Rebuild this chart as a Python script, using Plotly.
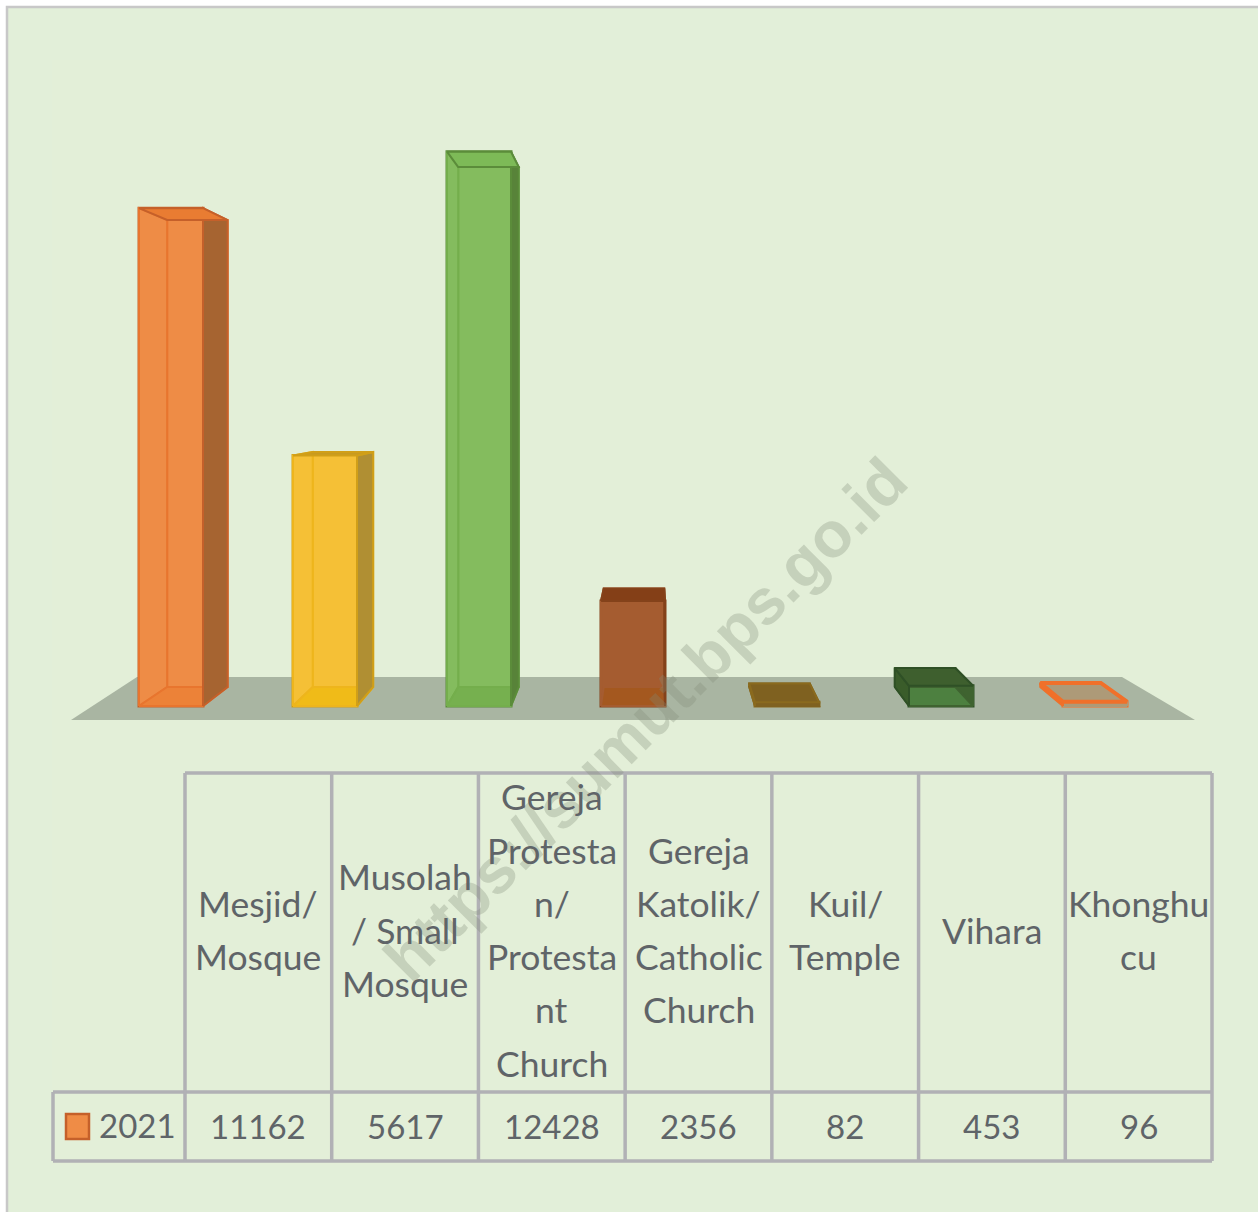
import plotly.graph_objects as go

W, H = 1258, 1212

# data
YEAR = "2021"
VALUES = [11162, 5617, 12428, 2356, 82, 453, 96]
LABELS = [
    ["Mesjid/", "Mosque"],
    ["Musolah", "/ Small", "Mosque"],
    ["Gereja", "Protesta", "n/", "Protesta", "nt", "Church"],
    ["Gereja", "Katolik/", "Catholic", "Church"],
    ["Kuil/", "Temple"],
    ["Vihara"],
    ["Khonghu", "cu"],
]

# per-bar colours
FRONT = ["rgba(238,140,70,0.35)", "rgba(245,192,54,0.35)", "rgba(132,188,94,0.35)", "#a55c30",
         "#7f6120", "#4d8040", "rgba(240,112,42,0.9)"]
BACK = ["#ee8c46", "#f5c036", "#84bc5e", "#a55c30", "#7f6120", "#3f6330", "#ad9a78"]
EDGE = ["#c5602a", "#d19f18", "#5b8c3a", "#84421a", "#8a6a1e", "#2f5026", "#f0702a"]
SIDE = ["#a66431", "#b08f33", "#588339", "#84421a", "#7f6120", "#3a5c2a", "#f0702a"]
TOP = ["#e97c32", "#c79a20", "#7dba57", "#843f17", "#7f6120", "#3e5f2e", "#ad9a78"]
BOTTOM = ["#ec8238", "#f0bb18", "#76b04f", "#a4581f", "#7f6120", "#4d8040", "#ad9a78"]
INNER = ["#e8752e", "#eeb51c", "#74ae4c", "#a55c30", "#7f6120", "#3f6330", "#ad9a78"]

# projection of the fake 3D box: pixels per unit, back plane relative to the front
PX_PER_UNIT = 0.0446
BASE_PX = 706
CENTER0_PX, STEP_PX = 171, 154
BAR_W = 64 / STEP_PX
BACK_SCALE_Y = 0.938
BACK_BASE = (706 - 687) / PX_PER_UNIT
BACK_SCALE_X = 0.945
VANISH_X = (651 - CENTER0_PX) / STEP_PX

TEXT = "#5f6468"
GRID = "#b1b1b5"
FONT = "Lato"


def fx(x):
    return x / W


def fy(y):
    return 1 - y / H


def back_x(x):
    return VANISH_X + (x - VANISH_X) * BACK_SCALE_X


def back_y(v):
    return BACK_BASE + BACK_SCALE_Y * v


def poly(xs, ys, fill, line, width=2):
    return go.Scatter(
        x=xs + xs[:1], y=ys + ys[:1], mode="lines", fill="toself", fillcolor=fill,
        line=dict(color=line, width=width), hoverinfo="skip", showlegend=False,
    )


fig = go.Figure()

for i, v in enumerate(VALUES):
    l, r = i - BAR_W / 2, i + BAR_W / 2
    bl, br = back_x(l), back_x(r)
    y0, yt = back_y(0), back_y(v)
    # outer side is the dark one, the other is seen through the front
    if i <= 3:
        near, far = (l, bl), (r, br)
    else:
        near, far = (r, br), (l, bl)
    fig.add_trace(poly([bl, br, br, bl], [y0, y0, yt, yt], BACK[i], INNER[i], 2))
    fig.add_trace(poly([near[0], near[1], near[1], near[0]], [0, y0, yt, v], BACK[i], INNER[i], 2))
    fig.add_trace(poly([l, r, br, bl], [0, 0, y0, y0], BOTTOM[i], INNER[i], 2))
    fig.add_trace(poly([far[0], far[1], far[1], far[0]], [0, y0, yt, v], SIDE[i], EDGE[i], 2))
    fig.add_trace(poly([l, r, br, bl], [v, v, yt, yt], TOP[i], EDGE[i], 4 if i == 6 else 2))

fig.add_trace(go.Bar(
    x=list(range(len(VALUES))), y=VALUES, width=BAR_W,
    marker=dict(color=FRONT, line=dict(color=EDGE, width=3)),
    showlegend=False, hoverinfo="skip",
))

# page frame, faint plot area and floor
shapes = [
    dict(type="rect", xref="paper", yref="paper", x0=fx(7), x1=fx(W + 20), y0=fy(H + 20), y1=fy(7),
         fillcolor="#e2efd9", line=dict(color="#c8c8c8", width=2.5), layer="below"),
    dict(type="rect", xref="paper", yref="paper", x0=fx(52), x1=fx(1210), y0=fy(1165), y1=fy(60),
         fillcolor="#e3efd8", line=dict(width=0), layer="below"),
    dict(type="path", xref="paper", yref="paper", layer="below", fillcolor="#a9b5a2", line=dict(width=0),
         path=f"M{fx(71)},{fy(720)} L{fx(1195)},{fy(720)} L{fx(1122)},{fy(677)} L{fx(137)},{fy(677)} Z"),
]

# data table under the chart
COL0, COL_W = 185, (1212 - 185) / 7
TOP_Y, MID_Y, BOT_Y, LEFT_X, RIGHT_X = 773, 1092, 1161, 53, 1212


def hline(y, a, b):
    return dict(type="line", xref="paper", yref="paper", x0=fx(a), x1=fx(b), y0=fy(y), y1=fy(y),
                line=dict(color=GRID, width=3.5))


def vline(x, a, b):
    return dict(type="line", xref="paper", yref="paper", x0=fx(x), x1=fx(x), y0=fy(a), y1=fy(b),
                line=dict(color=GRID, width=3.5))


shapes += [hline(TOP_Y, COL0, RIGHT_X), hline(MID_Y, LEFT_X, RIGHT_X), hline(BOT_Y, LEFT_X, RIGHT_X)]
shapes += [vline(COL0 + COL_W * c, TOP_Y, BOT_Y) for c in range(8)]
shapes.append(vline(LEFT_X, MID_Y, BOT_Y))
shapes.append(dict(type="rect", xref="paper", yref="paper", x0=fx(66), x1=fx(89), y0=fy(1139), y1=fy(1114),
                   fillcolor="#ef8c46", line=dict(color="#c5602a", width=2.5)))


def label(x, y, text, size=35.5, anchor="center"):
    return dict(xref="paper", yref="paper", x=fx(x), y=fy(y), text=text, showarrow=False,
                xanchor=anchor, yanchor="middle", font=dict(family=FONT, size=size, color=TEXT))


annotations = [dict(
    xref="paper", yref="paper", x=fx(645), y=fy(720), text="https://sumut.bps.go.id", showarrow=False,
    textangle=-45, xanchor="center", yanchor="middle",
    font=dict(family="Liberation Sans", size=64, color="rgba(128,140,120,0.3)", weight="bold"),
)]
LINE_H, HEAD_MID = 53.3, 930
for c, lines in enumerate(LABELS):
    cx = COL0 + COL_W * (c + 0.5)
    for n, line in enumerate(lines):
        annotations.append(label(cx, HEAD_MID + (n - (len(lines) - 1) / 2) * LINE_H, line))
    annotations.append(label(cx, 1126, str(VALUES[c]), size=33))
annotations.append(label(97, 1125, YEAR, size=33, anchor="left"))

fig.update_layout(
    width=W, height=H, autosize=False, margin=dict(l=0, r=0, t=0, b=0),
    paper_bgcolor="#ffffff", plot_bgcolor="rgba(0,0,0,0)", showlegend=False,
    xaxis=dict(visible=False, range=[-CENTER0_PX / STEP_PX, (W - CENTER0_PX) / STEP_PX], fixedrange=True),
    yaxis=dict(visible=False, range=[(BASE_PX - H) / PX_PER_UNIT, BASE_PX / PX_PER_UNIT], fixedrange=True),
    shapes=shapes, annotations=annotations,
)

fig.write_html("out.html", config=dict(displayModeBar=False),
               post_script="document.body.style.margin='0';document.body.style.overflow='hidden';")
